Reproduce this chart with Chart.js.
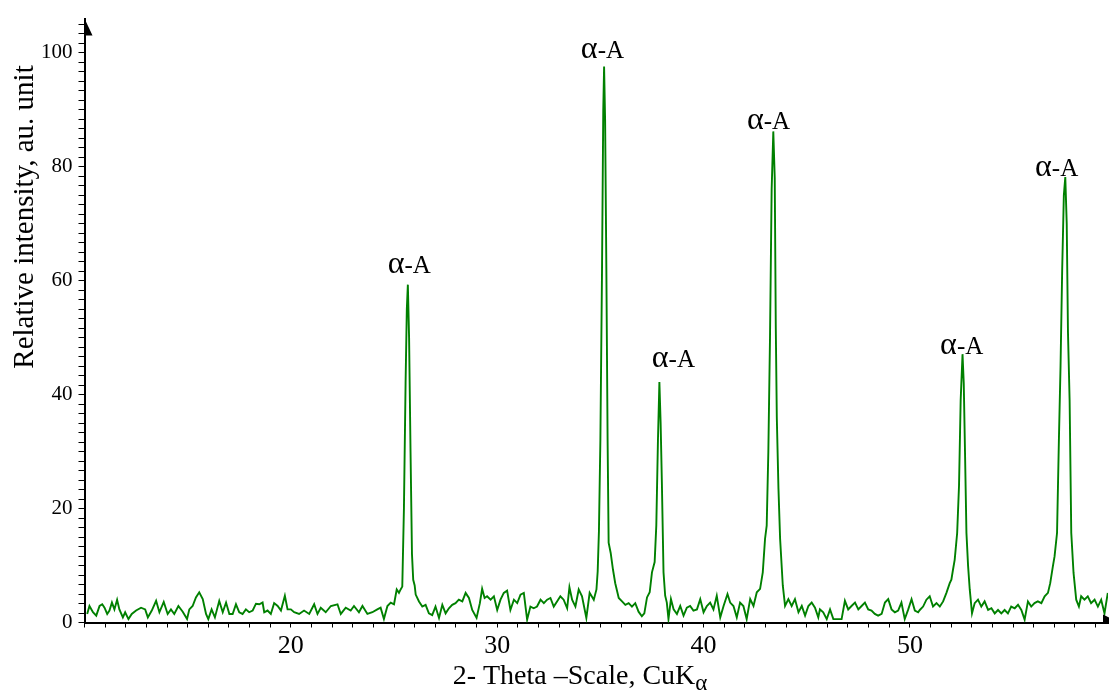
<!DOCTYPE html>
<html>
<head>
<meta charset="utf-8">
<script src="https://cdn.jsdelivr.net/npm/chart.js@4.4.1/dist/chart.umd.min.js"></script>
<style>
  html, body { margin: 0; padding: 0; background: #fff; }
  #wrap { width: 1109px; height: 691px; }
</style>
</head>
<body>
<div id="wrap"><canvas id="xrd" width="1109" height="691"></canvas></div>
<script>
// 2-theta positions (deg) and relative intensity
const twoTheta = [
  10.13, 10.24, 10.41, 10.57, 10.73, 10.86, 10.97, 11.1, 11.21, 11.33, 11.45, 11.58, 11.69, 11.86, 11.97,
  12.13, 12.29, 12.5, 12.74, 12.94, 13.07, 13.26, 13.47, 13.63, 13.84, 14.03, 14.19, 14.35, 14.55, 14.76,
  14.97, 15.08, 15.24, 15.4, 15.56, 15.73, 15.89, 16.0, 16.16, 16.32, 16.53, 16.7, 16.86, 17.02, 17.18,
  17.34, 17.5, 17.66, 17.82, 17.98, 18.15, 18.31, 18.47, 18.63, 18.71, 18.87, 19.03, 19.19, 19.36, 19.52,
  19.71, 19.84, 20.0, 20.16, 20.4, 20.64, 20.89, 21.13, 21.29, 21.45, 21.69, 21.94, 22.26, 22.42, 22.66,
  22.9, 23.06, 23.3, 23.47, 23.71, 23.95, 24.19, 24.35, 24.51, 24.68, 24.84, 25.0,
  25.13, 25.24, 25.32, 25.4, 25.48, 25.56, 25.62, 25.67, 25.73, 25.8, 25.87, 25.93, 26.0,
  26.05, 26.21, 26.37, 26.53, 26.69, 26.85, 27.01, 27.18, 27.34, 27.5, 27.66, 27.82, 27.98, 28.14, 28.31,
  28.47, 28.63, 28.79, 29.0, 29.16, 29.27, 29.39, 29.51, 29.68, 29.84, 30.0, 30.16, 30.32, 30.48, 30.64,
  30.81, 30.97, 31.13, 31.29, 31.45, 31.61, 31.77, 31.93, 32.1, 32.26, 32.42, 32.58, 32.74, 32.9, 33.06,
  33.22, 33.39, 33.5, 33.63, 33.79, 33.95, 34.11, 34.32, 34.48, 34.68, 34.81,
  34.87, 34.93, 35.0, 35.08, 35.14, 35.18, 35.23, 35.29, 35.35, 35.4, 35.5, 35.61, 35.72, 35.89,
  36.05, 36.21, 36.37, 36.53, 36.69, 36.85, 37.01, 37.13, 37.26, 37.39, 37.5, 37.63, 37.71, 37.79, 37.86,
  37.92, 37.98, 38.06, 38.14, 38.22, 38.3, 38.42, 38.55, 38.71, 38.87, 39.03, 39.19, 39.35, 39.51, 39.68,
  39.84, 40.0, 40.16, 40.32, 40.48, 40.64, 40.81, 40.97, 41.16, 41.29, 41.45, 41.61, 41.77, 41.93, 42.09,
  42.26, 42.42, 42.58, 42.74, 42.87, 42.98, 43.06, 43.14, 43.22, 43.3, 43.38, 43.45, 43.5, 43.55, 43.63,
  43.71, 43.84, 43.95, 44.11, 44.27, 44.43, 44.6, 44.76, 44.92, 45.08, 45.24, 45.4, 45.56,
  45.64, 45.8, 45.97, 46.13, 46.29, 46.45, 46.69, 46.85, 47.01, 47.17, 47.34, 47.5, 47.66, 47.82, 47.98,
  48.14, 48.3, 48.46, 48.63, 48.79, 48.95, 49.11, 49.27, 49.43, 49.59, 49.75, 49.92, 50.08, 50.24, 50.4,
  50.48, 50.64, 50.8, 50.96, 51.12, 51.29, 51.45, 51.61, 51.77, 51.93, 52.01, 52.09, 52.17, 52.29, 52.38,
  52.46, 52.55, 52.61, 52.67, 52.74, 52.82, 52.9, 53.01, 53.14, 53.3, 53.46, 53.62, 53.79, 53.95, 54.11,
  54.27, 54.43, 54.59, 54.75, 54.91, 55.08, 55.24, 55.4, 55.56, 55.72, 55.88, 56.04, 56.2, 56.37, 56.53,
  56.69, 56.8, 56.93, 57.01, 57.13, 57.22, 57.3, 57.38, 57.46, 57.53, 57.6, 57.66, 57.74, 57.82, 57.93,
  58.06, 58.19, 58.3, 58.46, 58.62, 58.78, 58.95, 59.11, 59.27, 59.43, 59.59
];
const intensity = [
  1.5, 2.9, 1.8, 1.2, 2.9, 3.2, 2.6, 1.5, 2.1, 3.5, 2.3, 4.0, 2.3, 0.9, 1.8,
  0.6, 1.5, 2.1, 2.6, 2.3, 0.9, 2.1, 3.8, 1.8, 3.6, 1.5, 2.3, 1.5, 2.9, 1.9,
  0.6, 2.3, 2.9, 4.4, 5.3, 4.1, 1.5, 0.6, 2.3, 0.9, 3.8, 1.8, 3.5, 1.5, 1.5,
  3.2, 1.8, 1.5, 2.3, 1.8, 2.1, 3.3, 3.2, 3.5, 1.8, 2.1, 1.5, 3.4, 2.9, 2.1,
  4.7, 2.3, 2.3, 1.8, 1.5, 2.1, 1.5, 3.2, 1.5, 2.6, 1.8, 2.9, 3.2, 1.5, 2.6,
  2.1, 2.9, 1.8, 2.9, 1.5, 1.8, 2.3, 2.6, 0.6, 2.9, 3.5, 3.2,
  5.8, 5.2, 5.8, 6.3, 20, 42, 55, 59.3, 50, 30, 12, 7.5, 6.5,
  4.9, 3.7, 2.8, 3.1, 1.6, 1.3, 2.8, 0.8, 3.1, 1.6, 2.5, 3.1, 3.4, 4.0, 3.7,
  5.2, 4.3, 2.2, 0.8, 3.4, 5.9, 4.3, 4.6, 4.0, 4.6, 2.2, 4.0, 5.2, 5.6, 2.2,
  4.0, 3.4, 4.9, 5.2, 0.5, 2.8, 2.5, 2.8, 4.0, 3.4, 4.0, 4.3, 2.8, 3.7, 4.6,
  4.0, 2.5, 6.2, 4.0, 2.8, 5.8, 4.6, 0.8, 5.2, 4.0, 5.8,
  9.0, 16, 32, 62, 90, 97.6, 88, 62, 32, 14, 12.2, 9.3, 6.9, 4.3,
  3.7, 3.1, 3.4, 2.8, 3.4, 1.9, 1.1, 1.6, 4.4, 5.3, 8.8, 10.6, 17, 32, 42.2,
  35, 24.6, 8.8, 4.7, 3.5, 0.6, 4.1, 2.3, 1.5, 2.9, 1.2, 2.6, 2.9, 2.1, 2.3,
  4.1, 1.8, 2.9, 3.5, 2.3, 4.7, 0.9, 2.9, 5.0, 3.5, 2.9, 0.9, 3.5, 2.9, 0.6,
  4.1, 2.9, 5.3, 5.9, 8.8, 14.7, 17, 30, 50, 76, 86.2, 78, 52, 36, 23.5,
  14.7, 6.5, 2.9, 4.1, 2.9, 4.1, 1.8, 2.9, 1.2, 2.9, 3.5, 2.6, 0.9,
  2.3, 1.8, 0.6, 2.3, 0.6, 0.6, 0.6, 3.8, 2.3, 2.9, 3.5, 2.3, 2.9, 3.5, 2.3,
  2.1, 1.5, 1.2, 1.5, 3.5, 4.1, 2.3, 1.8, 2.1, 3.5, 0.6, 2.3, 4.1, 2.1, 1.8,
  2.2, 2.8, 4.0, 4.6, 2.8, 3.4, 2.8, 3.7, 5.2, 6.9, 7.5, 9.3, 11, 15.7, 24,
  39, 47.1, 42, 30, 15.7, 9.9, 5.8, 1.6, 3.4, 4.0, 2.8, 3.7, 2.2, 2.5, 1.6,
  2.2, 1.6, 2.2, 1.6, 2.8, 2.5, 3.1, 2.2, 0.5, 3.7, 2.8, 3.4, 3.7, 3.4, 4.6,
  5.2, 6.9, 9.9, 11.6, 15.7, 32, 45, 62, 75, 78.2, 70, 51, 39, 15.7, 8.7,
  4.0, 2.8, 4.6, 4.0, 4.6, 3.4, 4.0, 2.8, 4.0, 1.6, 5.2
];

// peak annotations (text baseline anchor in data units)
const peakText = 'α-A';
const peakLabelX = [25.74, 35.1, 38.54, 43.15, 52.51, 57.11];
const peakLabelY = [61.4, 99.1, 44.8, 86.7, 47.2, 78.3];

const xTickLabels = [20, 30, 40, 50];
const yTickLabels = [0, 20, 40, 60, 80, 100];

const X_MIN = 10, X_MAX = 59.6;
const Y_MIN = 0, Y_MAX = 106;
const SERIF = '"Liberation Serif", "Times New Roman", serif';

const points = twoTheta.map((t, i) => ({ x: t, y: intensity[i] }));

// arrows, peak labels and axis titles
const decorPlugin = {
    id: 'decor',
    afterDraw(chart) {
        const { ctx, chartArea: a, scales } = chart;
        ctx.save();
        ctx.fillStyle = '#000';

        // half arrow heads at the axis ends
        ctx.beginPath();
        ctx.moveTo(a.left, a.top);
        ctx.lineTo(a.left + 8, a.top + 17);
        ctx.lineTo(a.left, a.top + 17);
        ctx.closePath();
        ctx.fill();

        ctx.beginPath();
        ctx.moveTo(a.right - 5, a.bottom - 8);
        ctx.lineTo(a.right + 11, a.bottom);
        ctx.lineTo(a.right - 5, a.bottom);
        ctx.closePath();
        ctx.fill();

        // α-A labels over the peaks
        ctx.textBaseline = 'alphabetic';
        ctx.textAlign = 'left';
        peakLabelX.forEach((lx, i) => {
            const px = scales.x.getPixelForValue(lx);
            const py = scales.y.getPixelForValue(peakLabelY[i]);
            ctx.font = '32px ' + SERIF;
            const wa = ctx.measureText(peakText[0]).width;
            ctx.font = '25px ' + SERIF;
            const wb = ctx.measureText(peakText.slice(1)).width;
            const x0 = px - (wa + wb) / 2;
            ctx.font = '32px ' + SERIF;
            ctx.fillText(peakText[0], x0, py);
            ctx.font = '25px ' + SERIF;
            ctx.fillText(peakText.slice(1), x0 + wa, py);
        });

        // x title with subscript
        const main = '2- Theta \u2013Scale, CuK';
        ctx.font = '28px ' + SERIF;
        const wm = ctx.measureText(main).width;
        ctx.font = '23px ' + SERIF;
        const ws = ctx.measureText('α').width;
        const tx = 580 - (wm + ws) / 2;
        ctx.font = '28px ' + SERIF;
        ctx.fillText(main, tx, 684);
        ctx.font = '23px ' + SERIF;
        ctx.fillText('α', tx + wm, 690);

        // y title
        ctx.translate(33, 217);
        ctx.rotate(-Math.PI / 2);
        ctx.textAlign = 'center';
        ctx.font = '29px ' + SERIF;
        ctx.fillText('Relative intensity, au. unit', 0, 0);
        ctx.restore();
    }
};

new Chart(document.getElementById('xrd'), {
    type: 'line',
    data: {
        datasets: [{
            data: points,
            borderColor: 'rgb(0,128,0)',
            borderWidth: 1.9,
            pointRadius: 0,
            tension: 0,
            fill: false
        }]
    },
    options: {
        responsive: false,
        maintainAspectRatio: false,
        animation: false,
        layout: { padding: { top: 15.7, right: 1, left: 0, bottom: 0 } },
        plugins: {
            legend: { display: false },
            tooltip: { enabled: false }
        },
        scales: {
            x: {
                type: 'linear',
                min: X_MIN,
                max: X_MAX,
                afterFit(s) { s.height = 68.5; },
                afterBuildTicks(s) {
                    const t = [];
                    for (let v = 10; v <= 59; v++) t.push({ value: v });
                    s.ticks = t;
                },
                border: { display: true, color: '#000', width: 2 },
                grid: { drawOnChartArea: false, drawTicks: true, tickLength: 5, tickColor: '#000', tickWidth: 1 },
                ticks: {
                    autoSkip: false,
                    maxRotation: 0,
                    padding: 3,
                    color: '#000',
                    font: { family: SERIF, size: 26 },
                    callback: v => xTickLabels.includes(v) ? String(v) : ''
                }
            },
            y: {
                type: 'linear',
                min: Y_MIN,
                max: Y_MAX,
                afterFit(s) { s.width = 84.5; },
                afterBuildTicks(s) {
                    const t = [];
                    for (let k = 0; k * 5 / 3 <= Y_MAX; k++) t.push({ value: k * 5 / 3 });
                    s.ticks = t;
                },
                border: { display: true, color: '#000', width: 2 },
                grid: { drawOnChartArea: false, drawTicks: true, tickLength: 6, tickColor: '#000', tickWidth: 1 },
                ticks: {
                    autoSkip: false,
                    padding: 6,
                    color: '#000',
                    font: { family: SERIF, size: 21 },
                    callback: v => {
                        const r = Math.round(v);
                        return Math.abs(v - r) < 1e-6 && yTickLabels.includes(r) ? String(r) : '';
                    }
                }
            }
        }
    },
    plugins: [decorPlugin]
});
</script>
</body>
</html>
